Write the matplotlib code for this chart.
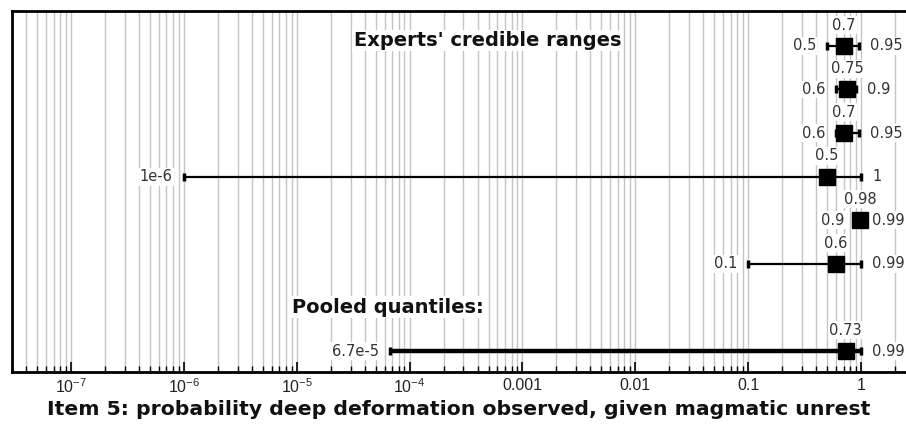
import matplotlib
matplotlib.use('Agg')
import matplotlib.pyplot as plt
from matplotlib.ticker import FixedLocator, NullFormatter
import numpy as np

plt.rcParams['font.family'] = 'Liberation Sans'
plt.rcParams['mathtext.fontset'] = 'custom'
plt.rcParams['mathtext.rm'] = 'Liberation Sans'
plt.rcParams['mathtext.it'] = 'Liberation Sans'

# Experts' credible ranges, top to bottom: (5%, median, 95%)
lower = [0.5, 0.6, 0.6, 1e-6, 0.9, 0.1]
median = [0.7, 0.75, 0.7, 0.5, 0.98, 0.6]
upper = [0.95, 0.9, 0.95, 1, 0.99, 0.99]
lower_lbl = ['0.5', '0.6', '0.6', '1e-6', '0.9', '0.1']
median_lbl = ['0.7', '0.75', '0.7', '0.5', '0.98', '0.6']
upper_lbl = ['0.95', '0.9', '0.95', '1', '0.99', '0.99']

# pooled quantiles
pool_lower, pool_median, pool_upper = 6.7e-5, 0.73, 0.99
pool_lbls = ['6.7e-5', '0.73', '0.99']

tick_vals = [1e-7, 1e-6, 1e-5, 1e-4, 1e-3, 1e-2, 1e-1, 1]
tick_lbls = ['$10^{-7}$', '$10^{-6}$', '$10^{-5}$', '$10^{-4}$', '0.001', '0.01', '0.1', '1']

fig = plt.figure(figsize=(9.06, 4.29), dpi=100)
ax = fig.add_axes([12 / 906, 1 - 372 / 429, 1 - 12 / 906, (372 - 11) / 429])
ax.set_xscale('log')
ax.set_xlim(3e-8, 2.5)
ax.set_ylim(-0.48, 7.8)

# grid on every decade sub-division
minors = [m * 10.0 ** e for e in range(-8, 1) for m in range(1, 10)]
minors = [v for v in minors if 3e-8 < v < 2.5]
for v in minors:
    ax.axvline(v, color='#c4c4c4', lw=1.0, zorder=0)

box = dict(facecolor='white', edgecolor='none', pad=1.0)
lbl_kw = dict(fontsize=10.5, family='DejaVu Sans', color='#333333', bbox=box, zorder=3)
head_kw = dict(fontsize=14, family='DejaVu Sans', fontweight='bold', color='#111111',
               ha='center', va='center', bbox=box, zorder=3)


def draw_row(y, lo, med, hi, lo_t, med_t, hi_t, lw):
    ax.plot([lo, hi], [y, y], color='black', lw=lw, zorder=4, solid_capstyle='butt')
    ax.plot([lo, hi], [y, y], color='black', lw=0, marker='|', markersize=6,
            markeredgewidth=2.5, zorder=4)
    ax.plot([med], [y], marker='s', color='black', markersize=11, zorder=5)
    ax.annotate(lo_t, (lo, y), xytext=(-8, 0), textcoords='offset points',
                ha='right', va='center', **lbl_kw)
    ax.annotate(hi_t, (hi, y), xytext=(8, 0), textcoords='offset points',
                ha='left', va='center', **lbl_kw)
    ax.annotate(med_t, (med, y), xytext=(0, 15), textcoords='offset points',
                ha='center', va='center', **lbl_kw)


ys = np.arange(len(median), 0, -1) + 1
for i in range(len(median)):
    draw_row(ys[i], lower[i], median[i], upper[i],
             lower_lbl[i], median_lbl[i], upper_lbl[i], 1.6)

draw_row(0, pool_lower, pool_median, pool_upper,
         pool_lbls[0], pool_lbls[1], pool_lbls[2], 3.2)

ax.text(0.532, 0.918, "Experts' credible ranges", transform=ax.transAxes, **head_kw)
ax.text(0.421, 0.18, 'Pooled quantiles:', transform=ax.transAxes, **head_kw)

ax.xaxis.set_major_locator(FixedLocator(tick_vals))
ax.set_xticklabels(tick_lbls, fontsize=11.5, color='#222222')
ax.xaxis.set_minor_locator(FixedLocator(minors))
ax.xaxis.set_minor_formatter(NullFormatter())
ax.tick_params(axis='x', which='major', direction='in', length=7, width=1.2, pad=4)
ax.tick_params(axis='x', which='minor', direction='in', length=4, width=1.0)
ax.set_yticks([])

for s in ['left', 'top', 'bottom']:
    ax.spines[s].set_linewidth(2)
ax.spines['right'].set_visible(False)

ax.set_xlabel('Item 5: probability deep deformation observed, given magmatic unrest',
              family='DejaVu Sans', fontsize=14.7, fontweight='bold', color='#111111',
              labelpad=3)

fig.savefig('out.png', dpi=100)
